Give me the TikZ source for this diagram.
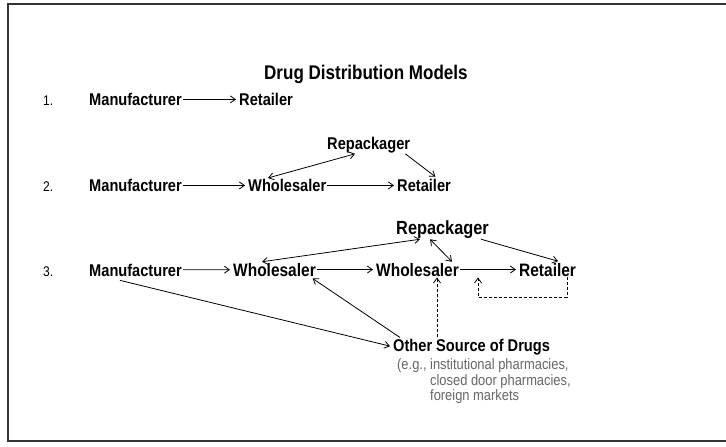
\documentclass[tikz,border=0pt]{standalone}
\usepackage{fontspec}
\setmainfont{Liberation Sans}[FakeStretch=0.86]
\usetikzlibrary{arrows.meta, positioning}
\newcommand\fsz[1]{\fontsize{#1}{#1}\selectfont\bfseries}

\begin{document}
\begin{tikzpicture}[x=1pt,y=-1pt,>={Straight Barb[length=5pt,width=7pt]},
  lbl/.style = {anchor=base west,inner sep=1pt,font=\fsz{#1}},
  lbl/.default = 17,
  num/.style = {anchor=base west,inner sep=1pt,font=\fontsize{14}{14}\selectfont},
  arr/.style = {->,line width=0.8pt,shorten >=2pt},
  dbl/.style = {<->,line width=0.8pt},
  dsh/.style = {->,line width=0.8pt,dash pattern=on 3pt off 2pt},
]
\useasboundingbox (0,0) rectangle (726,447);
\draw[line width=1.4pt,black!80] (726,4) -- (8,4) -- (8,441) -- (726,441);

\node (t)[lbl=19.8] at (263,79) {Drug Distribution Models};

% model 1
\node (n1)[num] at (42,105.5)  {1.};
\node (m1)[lbl] at (88,105.5)  {Manufacturer};
\node (r1)[lbl] at (238,105.5) {Retailer};
\draw[arr] (m1) -- (r1);

% model 2
\node (rp2)[lbl] at (326,149) {Repackager};
\node (n2)[num] at (42,191.5)  {2.};
\node (m2)[lbl] at (88,191.5)  {Manufacturer};
\node (w2)[lbl] at (247,191.5) {Wholesaler};
\node (r2)[lbl] at (396,191.5) {Retailer};
\draw[arr] (m2) -- (w2);
\draw[arr] (w2) -- (r2);
\draw[dbl] ([xshift=21pt]w2.north west) -- ([xshift=29pt]rp2.south west);
\draw[arr] ([xshift=-6pt]rp2.south east) -- ([xshift=41pt]r2.north west);

% model 3
\node (rp3)[lbl=19] at (395,234) {Repackager};
\node (n3)[num] at (42,276)  {3.};
\node (m3)[lbl] at (88,276)  {Manufacturer};
\node (w3)[lbl=18] at (232,276) {Wholesaler};
\node (v3)[lbl=18] at (375,276) {Wholesaler};
\node (r3)[lbl=18] at (518,276) {Retailer};
\node (os)[lbl=17] at (392,351) {Other Source of Drugs};
\node (eg)[inner sep=0pt,text=black!60,font=\fontsize{15}{14.5}\selectfont,
  below right=3pt and 5pt of os.south west]
  {\begin{tabular}{@{}l@{\ }l@{}}(e.g., & institutional pharmacies,\\ & closed door pharmacies,\\ & foreign markets\end{tabular}};

\draw[arr] (m3) -- (w3);
\draw[arr] (w3) -- (v3);
\draw[arr] (v3) -- (r3);
\draw[dbl] ([xshift=30pt]w3.north west) -- ([xshift=25pt]rp3.south west);
\draw[dbl] ([xshift=35pt]rp3.south west) -- ([xshift=77pt]v3.north west);
\draw[arr] ([xshift=-9pt]rp3.south east) -- ([xshift=42pt]r3.north west);
\draw[arr] ([xshift=32pt,yshift=-3pt]m3.south west) -- (os.west);
\draw[arr] ([xshift=8pt]os.north west) -- ([xshift=-6pt]w3.south east);
\draw[dsh] ([xshift=45pt]os.north west) -- ([xshift=45pt]os.north west |- v3.south);
\draw[dsh] ([xshift=49pt]r3.south west) -- ++(0,20) -| ([xshift=103pt]v3.south west);
\end{tikzpicture}
\end{document}
